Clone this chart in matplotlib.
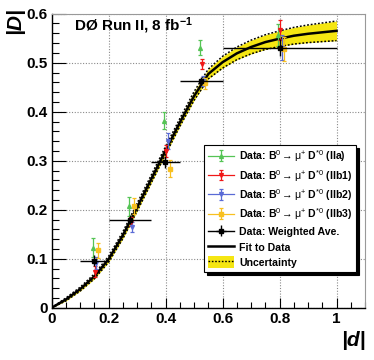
import numpy as np
import matplotlib
matplotlib.use("Agg")
import matplotlib.pyplot as plt
from matplotlib.ticker import MultipleLocator, FixedLocator, FixedFormatter
from matplotlib.lines import Line2D
from matplotlib.patches import Patch

plt.rcParams['font.family'] = ['Liberation Sans', 'DejaVu Sans']
plt.rcParams['mathtext.fontset'] = 'custom'
plt.rcParams['mathtext.rm'] = 'Liberation Sans'
plt.rcParams['mathtext.bf'] = 'Liberation Sans:bold'
plt.rcParams['mathtext.it'] = 'Liberation Sans:italic'

# ---------------- data ----------------
# weighted average
avg_d = [0.148, 0.276, 0.398, 0.526, 0.800]
avg_dlo = [0.10, 0.20, 0.35, 0.45, 0.60]
avg_dhi = [0.20, 0.35, 0.45, 0.60, 1.00]
avg_D = [0.096, 0.180, 0.298, 0.463, 0.531]
avg_err = [0.011, 0.010, 0.012, 0.008, 0.018]

# IIa
a_d = [0.146, 0.272, 0.396, 0.520, 0.795]
a_D = [0.123, 0.207, 0.382, 0.531, 0.556]
a_err = [0.019, 0.019, 0.017, 0.016, 0.022]
# IIb1
b1_d = [0.151, 0.279, 0.402, 0.527, 0.803]
b1_D = [0.074, 0.176, 0.320, 0.497, 0.567]
b1_err = [0.011, 0.010, 0.012, 0.010, 0.020]
# IIb2
b2_d = [0.155, 0.283, 0.408, 0.533, 0.809]
b2_D = [0.092, 0.165, 0.340, 0.463, 0.531]
b2_err = [0.012, 0.010, 0.016, 0.010, 0.026]
# IIb3
b3_d = [0.163, 0.289, 0.414, 0.540, 0.815]
b3_D = [0.117, 0.207, 0.284, 0.458, 0.528]
b3_err = [0.016, 0.016, 0.017, 0.011, 0.024]

# fit curve and uncertainty
fit_d = [0.00, 0.05, 0.10, 0.15, 0.20, 0.25, 0.30, 0.35, 0.40, 0.45, 0.50,
         0.55, 0.60, 0.65, 0.70, 0.75, 0.80, 0.85, 0.90, 0.95, 1.00]
fit_D = [0.000, 0.017, 0.038, 0.064, 0.099, 0.148, 0.205, 0.263, 0.321, 0.378, 0.432,
         0.477, 0.501, 0.519, 0.532, 0.542, 0.549, 0.555, 0.559, 0.562, 0.565]
fit_err = [0.000, 0.003, 0.004, 0.005, 0.006, 0.007, 0.008, 0.008, 0.008, 0.008, 0.009,
           0.010, 0.012, 0.013, 0.014, 0.015, 0.016, 0.017, 0.018, 0.019, 0.020]

xtick_vals = [0, 0.2, 0.4, 0.6, 0.8, 1.0]
xtick_labels = ["0", "0.2", "0.4", "0.6", "0.8", "1"]
ytick_vals = [0, 0.1, 0.2, 0.3, 0.4, 0.5, 0.6]
ytick_labels = ["0", "0.1", "0.2", "0.3", "0.4", "0.5", "0.6"]

labels = [r"Data: B$^{0}\rightarrow\mathrm{\mu}^{+}$ D$^{*0}$ (IIa)",
          r"Data: B$^{0}\rightarrow\mathrm{\mu}^{+}$ D$^{*0}$ (IIb1)",
          r"Data: B$^{0}\rightarrow\mathrm{\mu}^{+}$ D$^{*0}$ (IIb2)",
          r"Data: B$^{0}\rightarrow\mathrm{\mu}^{+}$ D$^{*0}$ (IIb3)",
          "Data: Weighted Ave.", "Fit to Data", "Uncertainty"]

c_green = '#55c455'
c_red = '#f01818'
c_blue = '#5a6bd6'
c_yellow = '#f8c020'
c_band = '#f5e612'

# ---------------- figure ----------------
fig = plt.figure(figsize=(3.74, 3.6), dpi=100)
ax = fig.add_axes([0.138, 0.145, 0.838, 0.817])
ax.set_xlim(0, 1.1)
ax.set_ylim(0, 0.6)

fd = np.array(fit_d); fD = np.array(fit_D); fe = np.array(fit_err)
ax.fill_between(fd, fD - fe, fD + fe, color=c_band, lw=0, zorder=2)
ax.plot(fd, fD + fe, color='black', ls=(0, (1.2, 1.2)), lw=1.1, zorder=3)
ax.plot(fd, fD - fe, color='black', ls=(0, (1.2, 1.2)), lw=1.1, zorder=3)
fit_line, = ax.plot(fd, fD, color='black', lw=1.8, zorder=4)

conts = []
for d, D, e, c, m in [(a_d, a_D, a_err, c_green, '^'),
                      (b1_d, b1_D, b1_err, c_red, 'v'),
                      (b2_d, b2_D, b2_err, c_blue, 'v'),
                      (b3_d, b3_D, b3_err, c_yellow, 's')]:
    ct = ax.errorbar(d, D, yerr=e, fmt=m, color=c, ms=2.8, lw=0.9,
                     capsize=1.5, capthick=0.9, zorder=5)
    conts.append(ct)

xerr = [np.array(avg_d) - np.array(avg_dlo), np.array(avg_dhi) - np.array(avg_d)]
ct_avg = ax.errorbar(avg_d, avg_D, xerr=xerr, yerr=avg_err, fmt='s', color='black',
                     ms=3.3, lw=1.0, capsize=0, zorder=6)

# axes styling
ax.xaxis.set_major_locator(FixedLocator(xtick_vals))
ax.xaxis.set_major_formatter(FixedFormatter(xtick_labels))
ax.yaxis.set_major_locator(FixedLocator(ytick_vals))
ax.yaxis.set_major_formatter(FixedFormatter(ytick_labels))
ax.xaxis.set_minor_locator(MultipleLocator(0.05))
ax.yaxis.set_minor_locator(MultipleLocator(0.02))
ax.tick_params(axis='x', which='major', direction='in', length=7, width=0.8, pad=3,
               labelsize=11)
ax.tick_params(axis='x', which='minor', direction='in', length=4, width=0.8)
ax.tick_params(axis='y', which='major', direction='in', length=10, width=0.8, pad=3,
               labelsize=11)
ax.tick_params(axis='y', which='minor', direction='in', length=5, width=0.8)
for lab in ax.get_xticklabels() + ax.get_yticklabels():
    lab.set_fontweight('bold')
ax.grid(True, which='major', color='#8a8a8a', ls=(0, (1, 1.5)), lw=0.8, zorder=0)
for s in ['left', 'bottom']:
    ax.spines[s].set_color('black'); ax.spines[s].set_linewidth(1.0)
for s in ['top', 'right']:
    ax.spines[s].set_color('#999999'); ax.spines[s].set_linewidth(0.8)

fig.text(74 / 374, 1 - 30 / 360, r"DØ Run II, 8 fb$^{\mathbf{-1}}$", fontsize=11,
         fontweight='bold', va='baseline', ha='left')
fig.text(15 / 374, 1 - 21 / 360, "|D|", fontsize=15, fontweight='bold', style='italic',
         rotation=90, ha='center', va='center')
fig.text(366 / 374, 1 - 340 / 360, "|d|", fontsize=15, fontweight='bold', style='italic',
         ha='right', va='center')

# legend
handles = []
for ct, c in zip(conts, [c_green, c_red, c_blue, c_yellow]):
    handles.append((Line2D([], [], color=c, lw=0.9), ct))
handles.append((Line2D([], [], color='black', lw=1.0), ct_avg))
handles.append(Line2D([], [], color='black', lw=1.8))
handles.append((Patch(facecolor=c_band, edgecolor='none'),
                Line2D([], [], color='black', ls=(0, (1.2, 1.2)), lw=1.0)))
leg = fig.legend(handles, labels, loc='upper left',
                 bbox_to_anchor=(204 / 374, 1 - 145 / 360), bbox_transform=fig.transFigure,
                 borderaxespad=0, prop={'weight': 'bold', 'size': 7.6},
                 frameon=True, fancybox=False, edgecolor='black', framealpha=1,
                 shadow={'color': 'black', 'alpha': 1},
                 handlelength=2.5, handleheight=1.35, handletextpad=0.5,
                 labelspacing=0.33, borderpad=0.35)
leg.get_frame().set_linewidth(0.8)

fig.savefig("out.png", dpi=100)
